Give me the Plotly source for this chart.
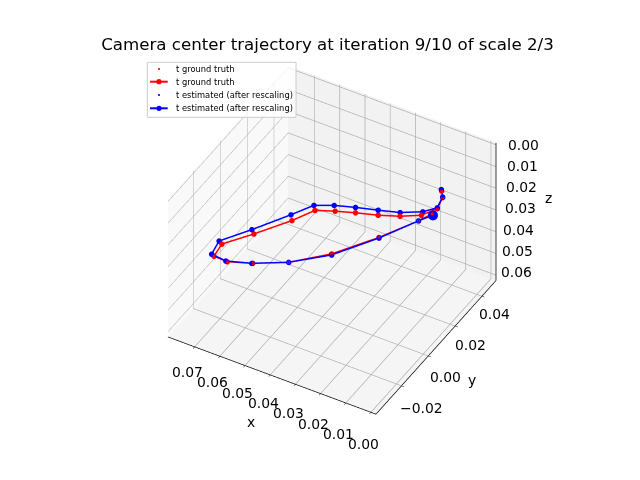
import plotly.graph_objects as go
import numpy as np

title = "Camera center trajectory at iteration 9/10 of scale 2/3"
legend_gt = "t ground truth"
legend_est = "t estimated (after rescaling)"

z_path = [0.0014, 0.0044, 0.0114, 0.0194, 0.0264, 0.0324, 0.0364, 0.0384, 0.0394, 0.0434,
          0.0494, 0.0534, 0.0514, 0.0474, 0.0434, 0.0384, 0.0324, 0.0274, 0.0224, 0.0184]
est_x = [-0.0012, 0.0033, 0.01455, 0.02878, 0.04364, 0.05786, 0.06852, 0.07573, 0.07761, 0.07321,
         0.06904, 0.06705, 0.05984, 0.05063, 0.04082, 0.03077, 0.02072, 0.01459, 0.01295, 0.01303]
est_y = [0.0049, 0.00268, -0.00571, -0.0143, -0.01836, -0.01921, -0.0185, -0.01555, -0.00645, 0.00975,
         0.03103, 0.04441, 0.04599, 0.04458, 0.04307, 0.04051, 0.03856, 0.03784, 0.03878, 0.03795]
gt_x = [-0.00056, 0.0033, 0.01471, 0.02905, 0.04364, 0.05755, 0.06794, 0.07449, 0.07598, 0.07144,
        0.0672, 0.06539, 0.058, 0.0492, 0.03947, 0.02977, 0.02022, 0.01432, 0.01279, 0.01256]
gt_y = [0.00548, 0.00268, -0.00541, -0.01379, -0.01836, -0.01902, -0.01861, -0.01614, -0.00747, 0.00794,
        0.02831, 0.04206, 0.04328, 0.04188, 0.04052, 0.03863, 0.03656, 0.03733, 0.03848, 0.03728]

x_range = [0.0805, -0.002]
y_range = [-0.039, 0.0505]
z_range = [0.0625, -0.001]
x_ticks = [0.00, 0.01, 0.02, 0.03, 0.04, 0.05, 0.06, 0.07]
y_ticks = [-0.02, 0.00, 0.02, 0.04]
z_ticks = [0.00, 0.01, 0.02, 0.03, 0.04, 0.05, 0.06]

FONT = "DejaVu Sans"
TICK = dict(family=FONT, size=13.9, color="black")
W, H = 640, 480
PAGE_MARGIN = 8  # the page body insets the plot by this much


def toward_camera(xs, ys, zs, amount):
    """Same screen position, slightly nearer the viewer, so the layering follows the draw order."""
    k = amount * 0.015
    return (np.array(xs) - 0.383 * k * 0.0825,
            np.array(ys) - 0.663 * k * 0.0895,
            np.array(zs) - 0.643 * k * 0.0635 / 0.75)


bx, by, bz = toward_camera(est_x, est_y, z_path, 1)
rx, ry, rz = toward_camera(gt_x, gt_y, z_path, 2)
dx, dy, dz = toward_camera(est_x, est_y, z_path, 3)

fig = go.Figure()
fig.add_trace(go.Scatter3d(x=gt_x, y=gt_y, z=z_path, mode="lines+markers", name=legend_gt,
                           line=dict(color="red", width=3), marker=dict(size=3.2, color="red")))
fig.add_trace(go.Scatter3d(x=bx, y=by, z=bz, mode="lines+markers", name=legend_est,
                           line=dict(color="blue", width=3), marker=dict(size=3.2, color="blue")))
fig.add_trace(go.Scatter3d(x=rx, y=ry, z=rz, mode="markers", name=legend_gt,
                           marker=dict(size=1.8, color="red")))
fig.add_trace(go.Scatter3d(x=dx, y=dy, z=dz, mode="markers", name=legend_est,
                           marker=dict(size=1.0, color="blue")))
fig.add_trace(go.Scatter3d(x=bx[:1], y=by[:1], z=bz[:1], mode="markers", name="start",
                           marker=dict(size=5.8, color="blue")))

# right-hand z axis line with its tick marks
zx, zy, zz = [x_range[1], x_range[1]], [y_range[1], y_range[1]], list(z_range)
for t in z_ticks:
    zx += [None, x_range[1] - 0.002, x_range[1]]
    zy += [None, y_range[1], y_range[1]]
    zz += [None, t, t]
fig.add_trace(go.Scatter3d(x=zx, y=zy, z=zz, mode="lines", name="z axis", hoverinfo="skip",
                           line=dict(color="black", width=1.5)))

annotations = [dict(x=x_range[1], y=y_range[1], z=t, text=f"{t:.2f}", showarrow=False,
                    xshift=28 - 133 * t, yshift=50 * t, font=TICK) for t in z_ticks]
annotations.append(dict(x=x_range[1], y=y_range[1], z=0.03, text="z", showarrow=False, xshift=53, yshift=12, font=TICK))
annotations += [dict(x=t, y=y_range[0], z=z_range[0], text=f"{t:.2f}", showarrow=False, xshift=-7,
                     yshift=-32 + 100 * t, font=TICK) for t in x_ticks]
annotations.append(dict(x=0.04, y=y_range[0], z=z_range[0], text="x", showarrow=False, xshift=-19, yshift=-47, font=TICK))
annotations += [dict(x=x_range[1], y=t, z=z_range[0], text=f"{t:.2f}".replace("-", "\u2212"), showarrow=False,
                     xshift=17.67 - 116.7 * t, yshift=-20.67 + 66.7 * t, font=TICK) for t in y_ticks]
annotations.append(dict(x=x_range[1], y=0.0, z=z_range[0], text="y", showarrow=False, xshift=44, yshift=-24, font=TICK))

common = dict(showbackground=True, gridcolor="#b0b0b0", gridwidth=1.5, color="black",
              showspikes=False, zeroline=False, tickmode="array", showticklabels=False,
              showline=True, linecolor="black", linewidth=1.5, ticks="outside", ticklen=3, tickcolor="black",
              title=dict(text=""))


def px(x):
    return (x - PAGE_MARGIN) / W


def py(y):
    return 1 - (y - PAGE_MARGIN) / H


# legend panel, row by row
box_l, box_r, box_t, box_b = 147.3, 296, 62.3, 117.3
rows = [69, 81.7, 95, 108.3]
row_text = [legend_gt, legend_gt, legend_est, legend_est]
row_color = ["red", "red", "blue", "blue"]
row_line = [False, True, False, True]
shapes = [dict(type="rect", xref="paper", yref="paper", x0=px(box_l), x1=px(box_r), y0=py(box_b), y1=py(box_t),
               line=dict(color="#cccccc", width=1), fillcolor="rgba(255,255,255,0.8)", layer="above")]
legend_text = []
for y, txt, col, has_line in zip(rows, row_text, row_color, row_line):
    r = 2.6 if has_line else 1.1
    if has_line:
        shapes.append(dict(type="line", xref="paper", yref="paper", x0=px(150), x1=px(167.7), y0=py(y), y1=py(y),
                           line=dict(color=col, width=2), layer="above"))
    shapes.append(dict(type="circle", xref="paper", yref="paper", x0=px(159 - r), x1=px(159 + r),
                       y0=py(y + r), y1=py(y - r), fillcolor=col, line=dict(width=0), layer="above"))
    legend_text.append(dict(xref="paper", yref="paper", x=px(174), y=py(y), xanchor="left", yanchor="middle",
                            text=txt, showarrow=False, font=dict(family=FONT, size=8.34, color="black")))

L = 2.0
el = np.radians(40)
az = np.radians(-60)
# shift the view so the box lands where it should on the page
dc = dict(x=-0.0147, y=-0.00845, z=-0.0443)
fig.update_layout(
    width=W, height=H, margin=dict(l=0, r=0, t=0, b=0), paper_bgcolor="white", showlegend=False,
    title=dict(text=title, x=px(327.5), xanchor="center", y=py(44), yanchor="middle",
               font=dict(family=FONT, size=16.67, color="black")),
    shapes=shapes, annotations=legend_text,
    scene=dict(
        xaxis=dict(range=x_range, tickvals=x_ticks, backgroundcolor="#f9f9f9", **common),
        yaxis=dict(range=y_range, tickvals=y_ticks, backgroundcolor="#f2f2f2", **common),
        zaxis=dict(range=z_range, tickvals=z_ticks, backgroundcolor="#f5f5f5",
                   **{**common, "showline": False, "ticks": ""}),
        aspectmode="manual", aspectratio=dict(x=1, y=1, z=0.75),
        annotations=annotations,
        camera=dict(eye=dict(x=L*np.cos(el)*np.cos(az) + dc["x"], y=L*np.cos(el)*np.sin(az) + dc["y"],
                             z=L*np.sin(el) + dc["z"]),
                    center=dc, up=dict(x=0, y=0, z=1),
                    projection=dict(type="orthographic")),
    ),
)
fig.write_html("out.html")
